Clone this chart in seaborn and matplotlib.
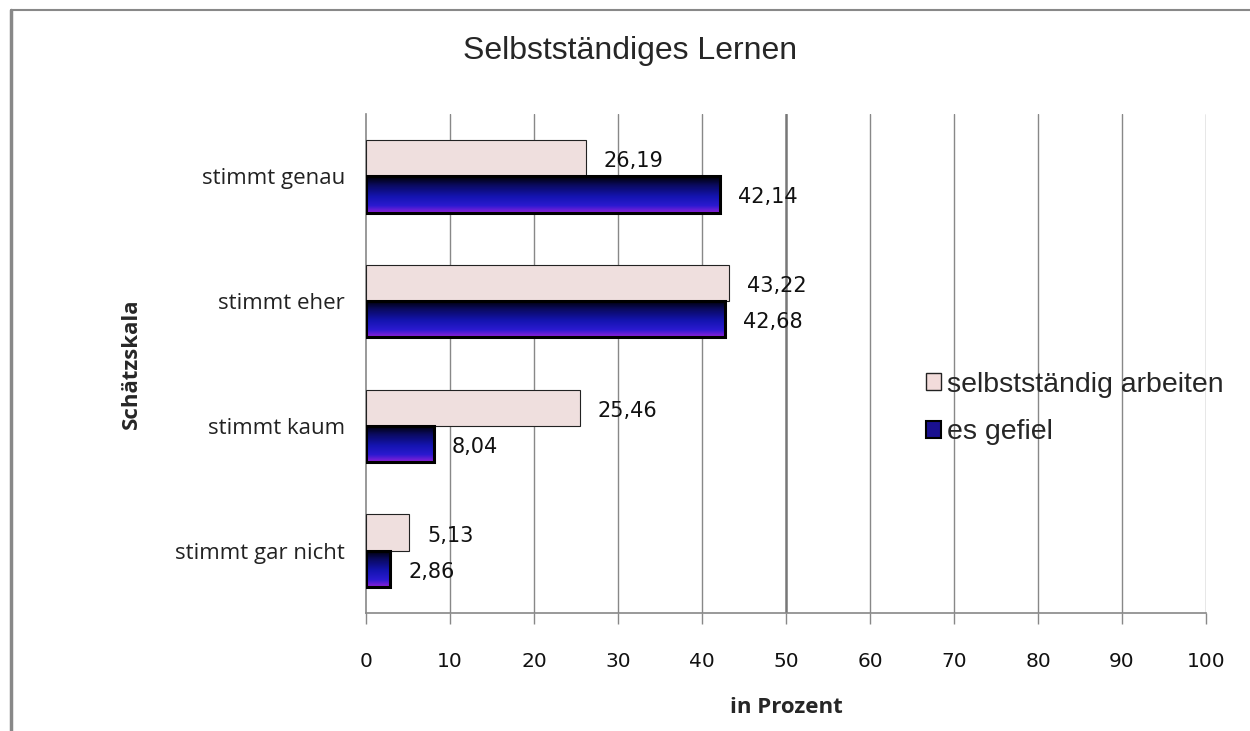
import numpy as np
import pandas as pd
import matplotlib
matplotlib.use("Agg")
import matplotlib.pyplot as plt
import seaborn as sns
from matplotlib.colors import LinearSegmentedColormap
from matplotlib.patches import Rectangle
from matplotlib.lines import Line2D

categories = ["stimmt genau", "stimmt eher", "stimmt kaum", "stimmt gar nicht"]
series_names = ["selbstständig arbeiten", "es gefiel"]
selbststaendig = [26.19, 43.22, 25.46, 5.13]
gefiel = [42.14, 42.68, 8.04, 2.86]
x_ticks = [0, 10, 20, 30, 40, 50, 60, 70, 80, 90, 100]

df = pd.DataFrame({
    "Kategorie": categories * 2,
    "Wert": selbststaendig + gefiel,
    "Serie": [series_names[0]] * 4 + [series_names[1]] * 4,
})

sns.set_style("white")
plt.rcParams["font.family"] = ["DejaVu Sans"]

fig = plt.figure(figsize=(12.5, 7.31), dpi=100)
ax = fig.add_axes([0.2928, 0.1614, 0.672, 0.6826])

pink = "#f2dcdb"
blue = "#1414b4"
sns.barplot(data=df, y="Kategorie", x="Wert", hue="Serie", order=categories,
            hue_order=series_names, palette=[pink, blue], orient="h",
            width=0.58, ax=ax, legend=False, zorder=3)

cmap = LinearSegmentedColormap.from_list(
    "g", [(0.0, "#000000"), (0.25, "#0a0a60"), (0.55, "#1414b0"),
          (0.8, "#2a1ad0"), (1.0, "#9020d8")])
grad = np.linspace(0, 1, 256).reshape(-1, 1)

n = len(categories)
patches = list(ax.patches)
for i, p in enumerate(patches):
    if i < n:
        p.set_edgecolor("#222222")
        p.set_linewidth(0.8)
    else:
        p.set_edgecolor("black")
        p.set_linewidth(2.2)
        x0, y0 = p.get_x(), p.get_y()
        w, h = p.get_width(), p.get_height()
        p.set_facecolor("none")
        p.set_zorder(4)
        im = ax.imshow(grad, cmap=cmap, aspect="auto",
                       extent=[x0, x0 + w, y0 + h, y0], zorder=3.5,
                       interpolation="bilinear")
        im.set_clip_path(p)

ax.set_xlim(0, 100)
ax.set_ylim(n - 0.5, -0.5)

# value labels
for i, p in enumerate(patches):
    val = p.get_width()
    txt = f"{val:.2f}".replace(".", ",")
    ax.annotate(txt, (val, p.get_y() + p.get_height() / 2),
                xytext=(18, -3), textcoords="offset pixels",
                va="center", ha="left", fontsize=15, color="#111111", zorder=6)

# grid
ax.set_xticks(x_ticks)
for t in x_ticks[1:]:
    ax.axvline(t, color="#888888" if t != 50 else "#777777",
               lw=1.0 if t != 50 else 1.8, zorder=1)
ax.tick_params(axis="x", length=8, color="#888888", width=1.0, pad=20,
               labelsize=14.5, labelcolor="#111111", direction="out", bottom=True)
ax.tick_params(axis="y", length=0, pad=15, labelsize=16, labelcolor="#222222")
for lbl in ax.get_yticklabels():
    lbl.set_family(["Open Sans", "DejaVu Sans"])
for lbl in ax.get_xticklabels():
    lbl.set_family(["DejaVu Sans"])

for s in ["top", "right"]:
    ax.spines[s].set_visible(False)
for s in ["left", "bottom"]:
    ax.spines[s].set_color("#888888")
    ax.spines[s].set_linewidth(1.2)

ax.set_xlabel("in Prozent", fontsize=16, fontweight="bold",
              family=["Open Sans", "DejaVu Sans"], labelpad=19)
ax.set_ylabel("Schätzskala", fontsize=16, fontweight="bold",
              family=["Open Sans", "DejaVu Sans"], labelpad=24)

fig.text(0.504, 0.93, "Selbstständiges Lernen", ha="center", va="center",
         fontsize=23, family=["Liberation Sans", "DejaVu Sans"])

# legend
handles = [Rectangle((0, 0), 1, 1, facecolor=pink, edgecolor="#222222", lw=1.0),
           Rectangle((0, 0), 1, 1, facecolor="#1a1090", edgecolor="black", lw=1.5)]
leg = fig.legend(handles, series_names, loc="center left",
                 bbox_to_anchor=(0.72, 0.441), frameon=False,
                 prop={"family": ["Liberation Sans", "DejaVu Sans"], "size": 20.5},
                 handlelength=0.55, handleheight=0.55, handletextpad=0.2,
                 labelspacing=0.75)

# figure border (top and left)
fig.add_artist(Line2D([0.0088, 1.0], [0.986, 0.986], transform=fig.transFigure,
                      color="#888888", lw=1.5))
fig.add_artist(Line2D([0.0088, 0.0088], [0.0, 0.986], transform=fig.transFigure,
                      color="#888888", lw=2.5))

fig.savefig("out.png", dpi=100)
